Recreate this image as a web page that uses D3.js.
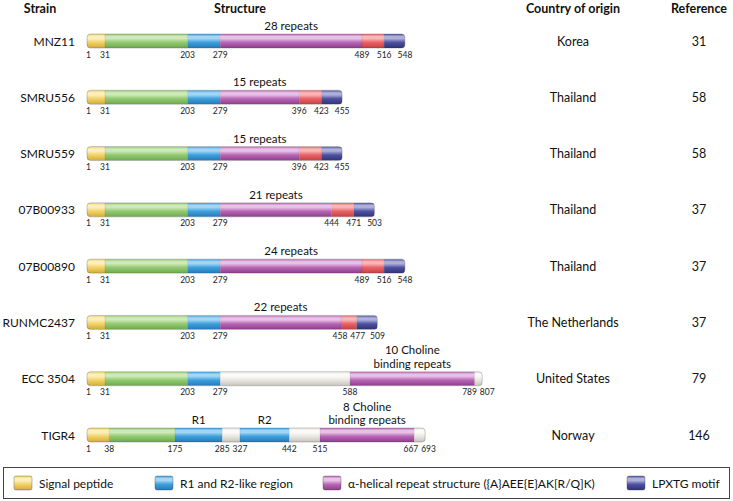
<!DOCTYPE html>
<html><head><meta charset="utf-8">
<script src="https://cdn.jsdelivr.net/npm/d3@7"></script>
<style>
body{margin:0;background:#fff}
svg{display:block}
text{font-family:Lato,"Open Sans",sans-serif;fill:#111}
</style>
</head><body><svg id="c" width="733" height="501"></svg>
<script>
// ---------- DATA ----------
const headers = ["Strain", "Structure", "Country of origin", "Reference"];
const strains = ["MNZ11", "SMRU556", "SMRU559", "07B00933", "07B00890", "RUNMC2437", "ECC 3504", "TIGR4"];
const countries = ["Korea", "Thailand", "Thailand", "Thailand", "Thailand", "The Netherlands", "United States", "Norway"];
const references = [31, 58, 58, 37, 37, 37, 79, 146];
// residue boundaries of the domains in each protein
const boundaries = [
  [1, 31, 203, 279, 489, 516, 548],
  [1, 31, 203, 279, 396, 423, 455],
  [1, 31, 203, 279, 396, 423, 455],
  [1, 31, 203, 279, 444, 471, 503],
  [1, 31, 203, 279, 489, 516, 548],
  [1, 31, 203, 279, 458, 477, 509],
  [1, 31, 203, 279, 588, 789, 807],
  [1, 38, 175, 285, 327, 442, 515, 667, 693]
];
// domain type of each segment between boundaries
const segmentTypes = [
  ["signal", "nterm", "r", "helix", "pro", "lpxtg"],
  ["signal", "nterm", "r", "helix", "pro", "lpxtg"],
  ["signal", "nterm", "r", "helix", "pro", "lpxtg"],
  ["signal", "nterm", "r", "helix", "pro", "lpxtg"],
  ["signal", "nterm", "r", "helix", "pro", "lpxtg"],
  ["signal", "nterm", "r", "helix", "pro", "lpxtg"],
  ["signal", "nterm", "r", "spacer", "choline", "spacer"],
  ["signal", "nterm", "r", "spacer", "r", "spacer", "choline", "spacer"]
];
const repeatLabels = ["28 repeats", "15 repeats", "15 repeats", "21 repeats", "24 repeats", "22 repeats",
  "10 Choline\nbinding repeats", "8 Choline\nbinding repeats"];
const regionNames = [[], [], [], [], [], [], [], ["R1", "R2"]];
const legendTypes = ["signal", "r", "helix", "lpxtg"];
const legendLabels = ["Signal peptide", "R1 and R2-like region", "\u03b1-helical repeat structure ({A}AEE{E}AK[R/Q]K)", "LPXTG motif"];

// ---------- LAYOUT / STYLE ----------
const svg = d3.select("#c");
const barH = 14, x0 = 87;
// schematic drawing density (px per residue) for each domain type
const density = {signal: 0.6, nterm: 0.48, r: 0.43, helix: 0.675, pro: 0.82, lpxtg: 0.65, spacer: 0.42, choline: 0.62};
const palette = {
  signal:  ["#fbf0bd", "#f2d267", "#d2ab3a"],
  nterm:   ["#cfe9b9", "#92ca70", "#6ea94f"],
  r:       ["#a3d6f5", "#3da0dd", "#2679b8"],
  helix:   ["#e8c2e6", "#b866b5", "#8c3e8b"],
  pro:     ["#f9b6b8", "#ea6266", "#c43f45"],
  lpxtg:   ["#aeb0d9", "#4e52a0", "#2f3276"],
  spacer:  ["#fbfaf7", "#e9e7e2", "#c6c3bc"],
  choline: ["#e8c2e6", "#b866b5", "#8c3e8b"]
};
const defs = svg.append("defs");
Object.entries(palette).forEach(([k, c]) => {
  const g = defs.append("linearGradient").attr("id", "g-" + k)
    .attr("x1", 0).attr("y1", 0).attr("x2", 0).attr("y2", 1);
  [[0, c[1]], [0.18, c[0]], [0.32, c[0]], [0.6, c[1]], [1, c[2]]].forEach(([o, col]) =>
    g.append("stop").attr("offset", o).attr("stop-color", col));
});

const y = d3.scalePoint().domain(strains).range([41, 435]);
const colX = d3.scaleOrdinal().domain(headers).range([40, 240, 573, 699]);

// headers
svg.append("g").selectAll("text").data(headers).join("text")
  .attr("x", d => colX(d)).attr("y", 13).attr("text-anchor", "middle")
  .style("font-weight", "bold").style("font-size", "12.5px").text(d => d);

strains.forEach((s, i) => {
  const cy = y(s);
  const g = svg.append("g");
  g.append("text").attr("x", 75).attr("y", cy + 4.5).attr("text-anchor", "end")
    .style("font-size", "12px").text(s);
  g.append("text").attr("x", colX("Country of origin")).attr("y", cy + 4.5).attr("text-anchor", "middle")
    .style("font-size", "12.5px").text(countries[i]);
  g.append("text").attr("x", colX("Reference")).attr("y", cy + 4.5).attr("text-anchor", "middle")
    .style("font-size", "12.5px").text(references[i]);

  const b = boundaries[i], t = segmentTypes[i];
  const rng = [x0];
  t.forEach((tp, k) => rng.push(rng[k] + (b[k + 1] - b[k]) * density[tp]));
  const xs = d3.scaleLinear().domain(b).range(rng);
  const xEnd = xs(b[b.length - 1]);
  const top = cy - barH / 2;

  const clipId = "clip" + i;
  defs.append("clipPath").attr("id", clipId).append("rect")
    .attr("x", x0).attr("y", top).attr("width", xEnd - x0).attr("height", barH).attr("rx", 3.5);
  const bar = g.append("g").attr("clip-path", `url(#${clipId})`);
  const segs = t.map((tp, k) => ({tp, a: b[k], e: b[k + 1]}));
  bar.selectAll("rect").data(segs).join("rect")
    .attr("x", d => xs(d.a)).attr("y", top)
    .attr("width", d => xs(d.e) - xs(d.a)).attr("height", barH)
    .attr("fill", d => "url(#g-" + d.tp + ")");
  bar.selectAll("line").data(segs.slice(1)).join("line")
    .attr("x1", d => xs(d.a)).attr("x2", d => xs(d.a)).attr("y1", top).attr("y2", top + barH)
    .attr("stroke", "rgba(0,0,0,0.15)").attr("stroke-width", 0.6);
  g.append("rect").attr("x", x0).attr("y", top).attr("width", xEnd - x0).attr("height", barH).attr("rx", 3.5)
    .attr("fill", "none").attr("stroke", "rgba(60,60,60,0.4)").attr("stroke-width", 0.7);

  // residue labels with simple overlap avoidance
  const labs = b.map((v, k) => ({v, x: k === 0 ? x0 + 1.5 : xs(v), w: String(v).length * 4.9}));
  for (let k = 1; k < labs.length; k++) {
    const ov = (labs[k - 1].x + labs[k - 1].w / 2 + 3) - (labs[k].x - labs[k].w / 2);
    if (ov > 0) { labs[k - 1].x -= ov / 2; labs[k].x += ov / 2; }
  }
  g.selectAll("text.res").data(labs).join("text").attr("class", "res")
    .attr("x", d => d.x).attr("y", top + barH + 9.5).attr("text-anchor", "middle")
    .style("font-size", "8.5px").style("fill", "#222").text(d => d.v);

  // repeat label over helix / choline segment
  const rep = segs.find(d => d.tp === "helix" || d.tp === "choline");
  const lines = repeatLabels[i].split("\n");
  g.selectAll("text.rep").data(lines).join("text").attr("class", "rep")
    .attr("x", (xs(rep.a) + xs(rep.e)) / 2)
    .attr("y", (d, k) => top - 4 - (lines.length - 1 - k) * 13.5)
    .attr("text-anchor", "middle").style("font-size", "11.5px").text(d => d);

  // R1/R2 names
  const rSegs = segs.filter(d => d.tp === "r");
  regionNames[i].forEach((n, k) => {
    const d = rSegs[k];
    g.append("text").attr("x", (xs(d.a) + xs(d.e)) / 2).attr("y", top - 4)
      .attr("text-anchor", "middle").style("font-size", "11.5px").text(n);
  });
});

// legend
svg.append("rect").attr("x", 3.5).attr("y", 467.5).attr("width", 726).attr("height", 31)
  .attr("fill", "none").attr("stroke", "#444").attr("stroke-width", 1);
const legX = [14, 155, 323, 627];
const lg = svg.append("g").selectAll("g").data(legendTypes).join("g")
  .attr("transform", (d, k) => `translate(${legX[k]},476)`);
lg.append("rect").attr("width", 18).attr("height", 14).attr("rx", 2)
  .attr("fill", d => "url(#g-" + d + ")").attr("stroke", "rgba(60,60,60,0.5)").attr("stroke-width", 0.7);
lg.append("text").attr("x", 25).attr("y", 11.5).style("font-size", "12px").text((d, k) => legendLabels[k]);
</script>
</body></html>
